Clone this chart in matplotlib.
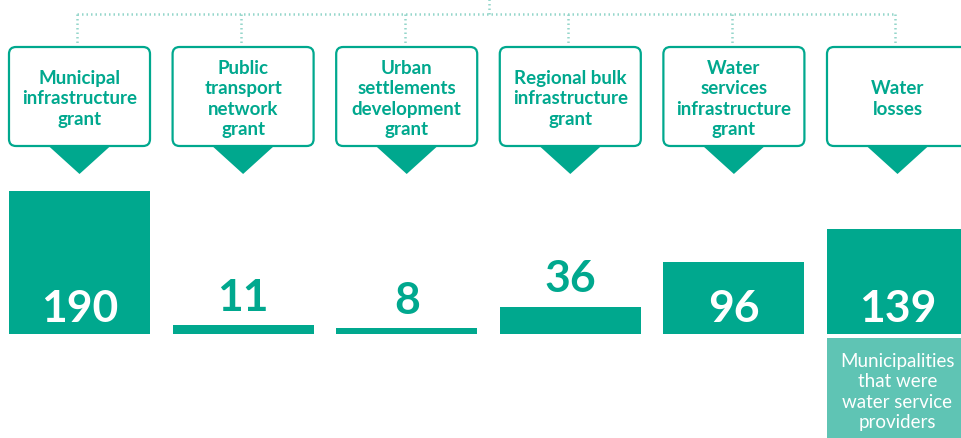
import matplotlib
matplotlib.use("Agg")
import matplotlib.pyplot as plt
from matplotlib.patches import FancyBboxPatch, Polygon, Rectangle

# grant categories and their counts
categories = [
    "Municipal\ninfrastructure\ngrant",
    "Public\ntransport\nnetwork\ngrant",
    "Urban\nsettlements\ndevelopment\ngrant",
    "Regional bulk\ninfrastructure\ngrant",
    "Water\nservices\ninfrastructure\ngrant",
    "Water\nlosses",
]
values = [190, 11, 8, 36, 96, 139]
note_text = "Municipalities\nthat were\nwater service\nproviders"

TEAL = "#00a88e"
LIGHT_TEAL = "#5fc4b4"
DOT = "#95d6cb"
FONT = ["Lato", "DejaVu Sans"]

W, H = 962, 439
BASE_PX = 334.5          # pixel row of the bar baseline
PX_PER_UNIT = 0.75       # bar height in pixels per unit
X0_PX, STEP_PX = 79.5, 163.6
BAR_W = 0.862

fig = plt.figure(figsize=(W / 100, H / 100), dpi=100)
fig.patch.set_facecolor("white")

# bars live in value units; limits chosen so the baseline sits at BASE_PX
axb = fig.add_axes([0, 0, 1, 1])
axb.set_xlim(-X0_PX / STEP_PX, (W - X0_PX) / STEP_PX)
axb.set_ylim(-(H - BASE_PX) / PX_PER_UNIT, BASE_PX / PX_PER_UNIT)
axb.axis("off")

xs = list(range(len(values)))
axb.bar(xs, values, width=BAR_W, color=TEAL, linewidth=0, zorder=2)

for x, v in zip(xs, values):
    if v * PX_PER_UNIT > 45:
        axb.text(x, 17, str(v), ha="center", va="baseline", color="white",
                 fontsize=32, fontweight="bold", family=FONT, zorder=3)
    else:
        axb.text(x, v + 20, str(v), ha="center", va="baseline", color=TEAL,
                 fontsize=32, fontweight="bold", family=FONT, zorder=3)

# overlay in pixel coordinates for the header boxes and connectors
ax = fig.add_axes([0, 0, 1, 1], facecolor="none")
ax.set_xlim(0, W)
ax.set_ylim(H, 0)
ax.axis("off")

centers = [X0_PX + i * STEP_PX for i in xs]
box_w = BAR_W * STEP_PX
box_top, box_bot = 48, 147

dot_style = dict(color=DOT, lw=1.8, linestyle=(0, (0.6, 1.2)),
                 dash_capstyle="butt", zorder=1)
ax.plot([centers[0] - 2, centers[-1] - 2], [15, 15], **dot_style)
ax.plot([489, 489], [0, 15], **dot_style)
for c in centers:
    ax.plot([c - 2, c - 2], [15, 45], **dot_style)

for c, label in zip(centers, categories):
    box = FancyBboxPatch((c - box_w / 2, box_top), box_w, box_bot - box_top,
                         boxstyle="round,pad=0,rounding_size=7",
                         facecolor="white", edgecolor=TEAL, lw=1.6, zorder=2)
    ax.add_patch(box)
    tri = Polygon([(c - 32, box_bot - 1), (c + 32, box_bot - 1), (c, 175)],
                  closed=True, facecolor=TEAL, edgecolor="none", zorder=3)
    ax.add_patch(tri)
    ax.text(c, 99, label, ha="center", va="center", color=TEAL,
            fontsize=13.5, fontweight="bold", family=FONT,
            linespacing=1.22, zorder=4)

# note under the last bar
last = centers[-1]
ax.add_patch(Rectangle((last - box_w / 2, 339), box_w, H - 339 + 5,
                       facecolor=LIGHT_TEAL, edgecolor="none", zorder=2))
ax.text(last, 392, note_text, ha="center", va="center", color="white",
        fontsize=13.5, fontweight="normal", family=FONT, linespacing=1.25,
        zorder=3)

fig.savefig("out.png", dpi=100, facecolor="white")
